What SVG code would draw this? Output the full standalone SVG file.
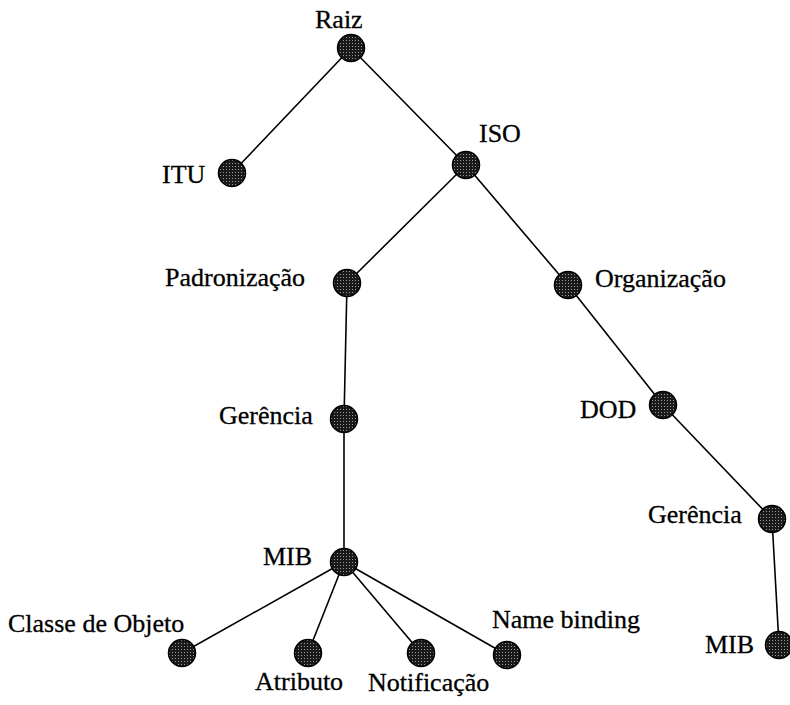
<svg xmlns="http://www.w3.org/2000/svg" width="790" height="705" viewBox="0 0 790 705">
  <defs>
    <!-- speckled fill used for every tree node -->
    <pattern id="speckle" width="3" height="3" patternUnits="userSpaceOnUse">
      <rect width="3" height="3" fill="#1a1a1a"/>
      <rect x="1" y="1" width="1" height="1" fill="#9a9a9a"/>
    </pattern>
  </defs>
  <style>
    .edge { stroke: #000; stroke-width: 1.6; fill: none; stroke-linecap: round; }
    .dot { fill: url(#speckle); stroke: #000; stroke-width: 1.5; }
    .lbl { font-family: "Liberation Serif", "Times New Roman", serif; font-size: 26px; fill: #000; stroke: #000; stroke-width: 0.3; }
  </style>
  <rect width="790" height="705" fill="#fff"/>

  <!-- tree edges -->
  <g id="connectors">
    <line class="edge" x1="351" y1="48" x2="232" y2="173"/>
    <line class="edge" x1="351" y1="48" x2="466" y2="165"/>
    <line class="edge" x1="466" y1="165" x2="347" y2="283"/>
    <line class="edge" x1="466" y1="165" x2="568" y2="285"/>
    <line class="edge" x1="347" y1="283" x2="344" y2="419"/>
    <line class="edge" x1="344" y1="419" x2="344" y2="562"/>
    <line class="edge" x1="568" y1="285" x2="663" y2="405"/>
    <line class="edge" x1="663" y1="405" x2="772" y2="519"/>
    <line class="edge" x1="772" y1="519" x2="779" y2="645"/>
    <line class="edge" x1="344" y1="562" x2="182" y2="653"/>
    <line class="edge" x1="344" y1="562" x2="308" y2="653"/>
    <line class="edge" x1="344" y1="562" x2="421" y2="653"/>
    <line class="edge" x1="344" y1="562" x2="507" y2="655"/>
  </g>

  <!-- tree nodes -->
  <g id="raiz">
    <circle class="dot" cx="351" cy="48" r="13.5"/>
    <text class="lbl" x="315" y="28">Raiz</text>
  </g>
  <g id="itu">
    <circle class="dot" cx="232" cy="173" r="13.5"/>
    <text class="lbl" x="162" y="183">ITU</text>
  </g>
  <g id="iso">
    <circle class="dot" cx="466" cy="165" r="13.5"/>
    <text class="lbl" x="479" y="142">ISO</text>
  </g>
  <g id="padronizacao">
    <circle class="dot" cx="347" cy="283" r="13.5"/>
    <text class="lbl" x="165" y="286">Padronização</text>
  </g>
  <g id="organizacao">
    <circle class="dot" cx="568" cy="285" r="13.5"/>
    <text class="lbl" x="595" y="287">Organização</text>
  </g>
  <g id="gerencia-padrao">
    <circle class="dot" cx="344" cy="419" r="13.5"/>
    <text class="lbl" x="219" y="424">Gerência</text>
  </g>
  <g id="dod">
    <circle class="dot" cx="663" cy="405" r="13.5"/>
    <text class="lbl" x="580" y="418">DOD</text>
  </g>
  <g id="gerencia-dod">
    <circle class="dot" cx="772" cy="519" r="13.5"/>
    <text class="lbl" x="648" y="523">Gerência</text>
  </g>
  <g id="mib-padrao">
    <circle class="dot" cx="344" cy="562" r="13.5"/>
    <text class="lbl" x="263" y="565">MIB</text>
  </g>
  <g id="mib-dod">
    <circle class="dot" cx="779" cy="645" r="13.5"/>
    <text class="lbl" x="705" y="653">MIB</text>
  </g>
  <g id="classe-objeto">
    <circle class="dot" cx="182" cy="653" r="13.5"/>
    <text class="lbl" x="8" y="632">Classe de Objeto</text>
  </g>
  <g id="atributo">
    <circle class="dot" cx="308" cy="653" r="13.5"/>
    <text class="lbl" x="255" y="690">Atributo</text>
  </g>
  <g id="notificacao">
    <circle class="dot" cx="421" cy="653" r="13.5"/>
    <text class="lbl" x="368" y="691">Notificação</text>
  </g>
  <g id="name-binding">
    <circle class="dot" cx="507" cy="655" r="13.5"/>
    <text class="lbl" x="492" y="628">Name binding</text>
  </g>
</svg>
